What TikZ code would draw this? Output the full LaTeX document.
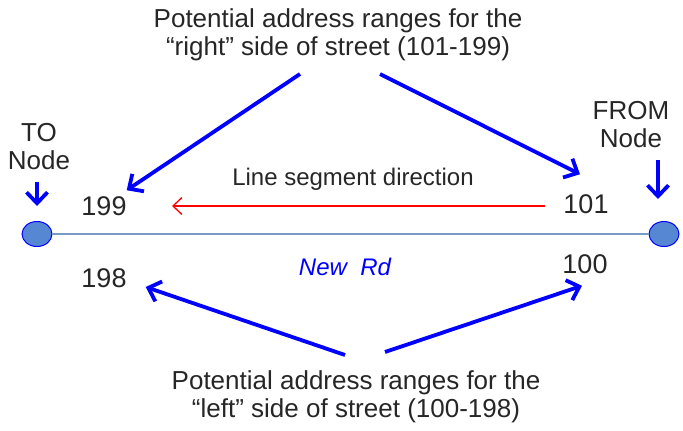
\documentclass[tikz,border=0pt]{standalone}
\usepackage{fontspec}
\setmainfont{Liberation Sans}
\usetikzlibrary{arrows.meta, shapes.geometric}

\definecolor{roadblue}{RGB}{120,155,200}
\definecolor{nodefill}{RGB}{85,135,210}

\begin{document}
\begin{tikzpicture}[x=1pt, y=-1pt,
    lbl/.style={font=\fontsize{26}{28}\selectfont, text=black!85, align=center, inner sep=0pt},
    num/.style={font=\fontsize{27}{28}\selectfont, text=black!85, inner sep=0pt},
    pointer/.style={draw=blue, line width=3.8pt, -{Straight Barb[length=11pt, width=21pt, line width=3.8pt]}},
    endpt/.style={ellipse, draw=blue, line width=1pt, fill=nodefill, minimum width=30pt, minimum height=25pt, inner sep=0pt}]
        \useasboundingbox (0,0) rectangle (683,431);

        % Road and its end nodes
        \node[endpt] (to) at (37,234) {};
        \node[endpt] (from) at (664,234) {};
        \draw[roadblue, line width=1.6pt] (to) -- (from);
        \node[text=blue, font=\fontsize{24}{26}\selectfont\itshape] (road) at (345,267) {New\ \ Rd};

        % End node labels
        \node[lbl] (tolbl) at (39,147) {TO\\Node};
        \node[lbl] (fromlbl) at (631,125) {FROM\\Node};
        \coordinate (totip) at (37,206);
        \coordinate (fromtip) at (658,199);
        \draw[pointer] (tolbl.south -| totip) ++(0,12) -- (totip);
        \draw[pointer] (fromlbl.south -| fromtip) ++(0,12) -- (fromtip);

        % House numbers
        \node[num] (n199) at (104,206) {199};
        \node[num] (n101) at (586,204) {101};
        \node[num] (n198) at (104,278) {198};
        \node[num] (n100) at (585,264) {100};

        % Line segment direction
        \node[lbl, font=\fontsize{24}{26}\selectfont] (dir) at (353,179) {Line segment direction};
        \coordinate (dirtail) at (545,206);
        \coordinate (dirhead) at (172,206);
        \draw[red, line width=1.3pt, -{Straight Barb[length=9pt, width=17pt, line width=1.3pt]}] (dirtail) -- (dirhead);

        % Right side
        \node[lbl] (right) at (338,35) {Potential address ranges for the\\``right'' side of street (101-199)};
        \draw[pointer] (300,74) -- ([xshift=0pt,yshift=6pt]n199.north east);
        \draw[pointer] (380,74) -- ([xshift=-6pt,yshift=20pt]n101.north);

        % Left side
        \node[lbl] (left) at (356,397) {Potential address ranges for the\\``left'' side of street (100-198)};
        \draw[pointer] (345,355) -- ([xshift=19pt,yshift=-9pt]n198.east);
        \draw[pointer] (385,352) -- ([xshift=-3pt,yshift=-12pt]n100.south);
\end{tikzpicture}
\end{document}
